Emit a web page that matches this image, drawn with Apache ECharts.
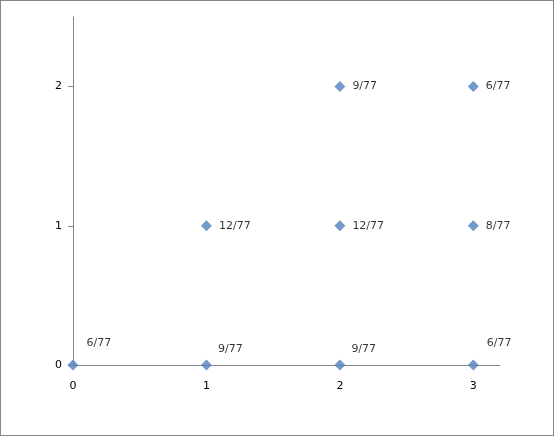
<!DOCTYPE html>
<html>
<head>
<meta charset="utf-8">
<script src="https://cdn.jsdelivr.net/npm/echarts@6/dist/echarts.min.js"></script>
<style>
  html, body { margin: 0; padding: 0; background: #fff; }
  #chart {
    width: 552px;
    height: 434px;
    border: 1px solid #868686;
  }
</style>
</head>
<body>
<div id="chart"></div>
<script>
// 点的坐标和标签
const xValues = [0, 1, 2, 3, 1, 2, 3, 2, 3];
const yValues = [0, 0, 0, 0, 1, 1, 1, 2, 2];
const pointLabels = ["6/77", "9/77", "9/77", "6/77", "12/77", "12/77", "8/77", "9/77", "6/77"];
const xTicks = [0, 1, 2, 3];
const yTicks = [0, 1, 2];

const axisColor = "#868686";
const font = "DejaVu Sans";

let seriesData = xValues.map((x, i) => ({
  value: [x, yValues[i]],
  label: {
    formatter: pointLabels[i],
    // 底部一排的标签放在点的右上方
    offset: yValues[i] === 0 ? (x === 0 || x === 3 ? [1, -22] : [-1, -16]) : [0, 0],
  },
}));

let myChart = echarts.init(document.getElementById("chart"));
myChart.setOption({
  animation: false,
  grid: {
    left: 72,
    right: 53,
    top: 16,
    bottom: 70,
  },
  xAxis: {
    type: "value",
    min: 0,
    max: 3.2,
    splitLine: { show: false },
    axisLine: { lineStyle: { color: axisColor, width: 1 } },
    axisTick: { show: false },
    axisLabel: {
      customValues: xTicks,
      color: "#000",
      fontFamily: font,
      fontSize: 11,
      margin: 16,
    },
  },
  yAxis: {
    type: "value",
    min: 0,
    max: 2.5,
    splitLine: { show: false },
    axisLine: { show: true, lineStyle: { color: axisColor, width: 1 } },
    axisTick: {
      show: true,
      customValues: yTicks,
      length: 5,
      lineStyle: { color: axisColor },
    },
    axisLabel: {
      customValues: yTicks,
      color: "#000",
      fontFamily: font,
      fontSize: 11,
      margin: 11,
    },
  },
  series: [
    {
      type: "scatter",
      symbol: "diamond",
      symbolSize: 11,
      itemStyle: { color: "#4F81BD" },
      label: {
        show: true,
        position: "right",
        distance: 7,
        color: "#000",
        fontFamily: font,
        fontSize: 11,
      },
      data: seriesData,
    },
  ],
});
</script>
</body>
</html>
